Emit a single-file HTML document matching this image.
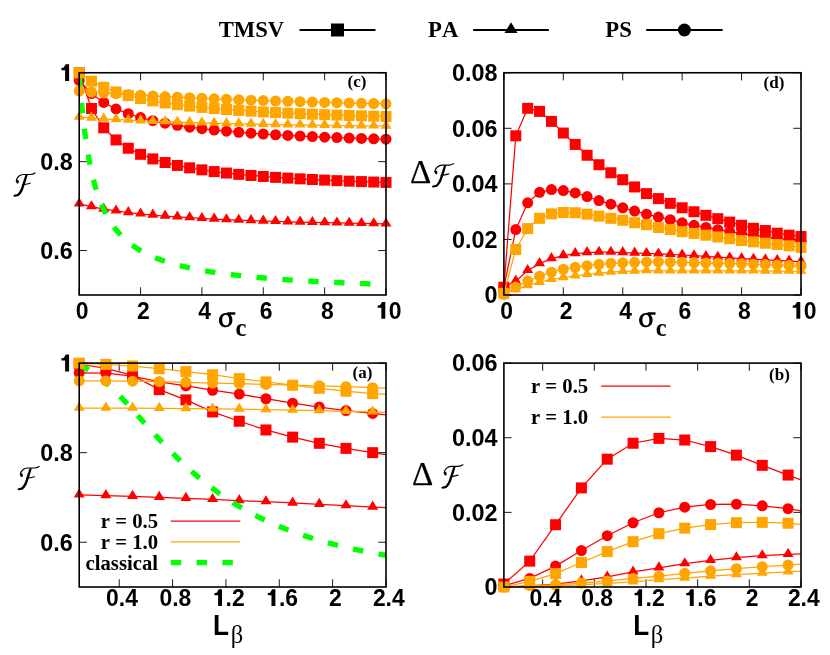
<!DOCTYPE html>
<html lang="en">
<head>
<meta charset="utf-8">
<title>Teleportation fidelity figure</title>
<style>
html,body{margin:0;padding:0;background:#ffffff;}
body{width:830px;height:655px;overflow:hidden;font-family:"Liberation Sans",sans-serif;}
svg{display:block;will-change:transform;}
text{fill:#000;font-kerning:none;}
.tk{font-family:"Liberation Sans",sans-serif;font-weight:bold;font-size:24px;}
.tag{font-family:"Liberation Serif",serif;font-weight:bold;font-size:17px;}
.key{font-family:"Liberation Serif",serif;font-weight:bold;font-size:22.7px;}
.leg{font-family:"Liberation Serif",serif;font-weight:bold;font-size:20.7px;}
.delta{font-family:"Liberation Serif",serif;font-size:33px;stroke:#000;stroke-width:0.25px;}
.sym{font-family:"Liberation Serif",serif;font-size:33px;}
.sub{font-family:"Liberation Serif",serif;font-weight:bold;font-size:24.5px;}
.bigL{font-family:"Liberation Sans",sans-serif;font-weight:bold;font-size:30px;}
.beta{font-family:"Liberation Serif",serif;font-size:24.5px;}
</style>
</head>
<body>
<svg width="830" height="655" viewBox="0 0 830 655">
<rect x="0" y="0" width="830" height="655" fill="#ffffff"/>
<defs>
<clipPath id="clipc"><rect x="79.2" y="72.75" width="306.8" height="222.25"/></clipPath>
<clipPath id="clipd"><rect x="503.9" y="72.75" width="297.1" height="222.25"/></clipPath>
<clipPath id="clipa"><rect x="79.2" y="363.1" width="306.8" height="223.9"/></clipPath>
<clipPath id="clipb"><rect x="503.9" y="363.1" width="297.1" height="223.9"/></clipPath>
</defs>
<path d="M79.2 295v-7.7 M79.2 72.75v7.7 M140.56 295v-7.7 M140.56 72.75v7.7 M201.92 295v-7.7 M201.92 72.75v7.7 M263.28 295v-7.7 M263.28 72.75v7.7 M324.64 295v-7.7 M324.64 72.75v7.7 M386 295v-7.7 M386 72.75v7.7 M79.2 250.55h7.7 M386 250.55h-7.7 M79.2 161.65h7.7 M386 161.65h-7.7 M79.2 72.75h7.7 M386 72.75h-7.7" stroke="#000" stroke-width="0.9" fill="none"/>
<polyline clip-path="url(#clipc)" fill="none" stroke="#ff0000" stroke-width="1.25" points="79.2,72.75 91.47,108.48 103.74,127.82 116.02,139.94 128.29,148.25 140.56,154.3 152.83,158.9 165.1,162.52 177.38,165.44 189.65,167.84 201.92,169.86 214.19,171.58 226.46,173.05 238.74,174.34 251.01,175.46 263.28,176.46 275.55,177.35 287.82,178.14 300.1,178.86 312.37,179.51 324.64,180.11 336.91,180.65 349.18,181.14 361.46,181.6 373.73,182.03 386,182.42"/>
<rect x="73.7" y="67.25" width="11" height="11" fill="#ff0000"/><rect x="85.97" y="102.98" width="11" height="11" fill="#ff0000"/><rect x="98.24" y="122.32" width="11" height="11" fill="#ff0000"/><rect x="110.52" y="134.44" width="11" height="11" fill="#ff0000"/><rect x="122.79" y="142.75" width="11" height="11" fill="#ff0000"/><rect x="135.06" y="148.8" width="11" height="11" fill="#ff0000"/><rect x="147.33" y="153.4" width="11" height="11" fill="#ff0000"/><rect x="159.6" y="157.02" width="11" height="11" fill="#ff0000"/><rect x="171.88" y="159.94" width="11" height="11" fill="#ff0000"/><rect x="184.15" y="162.34" width="11" height="11" fill="#ff0000"/><rect x="196.42" y="164.36" width="11" height="11" fill="#ff0000"/><rect x="208.69" y="166.08" width="11" height="11" fill="#ff0000"/><rect x="220.96" y="167.55" width="11" height="11" fill="#ff0000"/><rect x="233.24" y="168.84" width="11" height="11" fill="#ff0000"/><rect x="245.51" y="169.96" width="11" height="11" fill="#ff0000"/><rect x="257.78" y="170.96" width="11" height="11" fill="#ff0000"/><rect x="270.05" y="171.85" width="11" height="11" fill="#ff0000"/><rect x="282.32" y="172.64" width="11" height="11" fill="#ff0000"/><rect x="294.6" y="173.36" width="11" height="11" fill="#ff0000"/><rect x="306.87" y="174.01" width="11" height="11" fill="#ff0000"/><rect x="319.14" y="174.61" width="11" height="11" fill="#ff0000"/><rect x="331.41" y="175.15" width="11" height="11" fill="#ff0000"/><rect x="343.68" y="175.64" width="11" height="11" fill="#ff0000"/><rect x="355.96" y="176.1" width="11" height="11" fill="#ff0000"/><rect x="368.23" y="176.53" width="11" height="11" fill="#ff0000"/><rect x="380.5" y="176.92" width="11" height="11" fill="#ff0000"/>
<polyline clip-path="url(#clipc)" fill="none" stroke="#ff0000" stroke-width="1.25" points="79.2,203.88 91.47,206.73 103.74,209.04 116.02,210.94 128.29,212.53 140.56,213.88 152.83,215.04 165.1,216.05 177.38,216.94 189.65,217.73 201.92,218.42 214.19,219.05 226.46,219.62 238.74,220.13 251.01,220.6 263.28,221.02 275.55,221.41 287.82,221.77 300.1,222.11 312.37,222.42 324.64,222.7 336.91,222.97 349.18,223.22 361.46,223.45 373.73,223.67 386,223.88"/>
<path d="M79.2 197.39L73.7 206.52L84.7 206.52Z" fill="#ff0000"/><path d="M91.47 200.24L85.97 209.37L96.97 209.37Z" fill="#ff0000"/><path d="M103.74 202.55L98.24 211.68L109.24 211.68Z" fill="#ff0000"/><path d="M116.02 204.45L110.52 213.58L121.52 213.58Z" fill="#ff0000"/><path d="M128.29 206.04L122.79 215.17L133.79 215.17Z" fill="#ff0000"/><path d="M140.56 207.39L135.06 216.52L146.06 216.52Z" fill="#ff0000"/><path d="M152.83 208.55L147.33 217.68L158.33 217.68Z" fill="#ff0000"/><path d="M165.1 209.56L159.6 218.69L170.6 218.69Z" fill="#ff0000"/><path d="M177.38 210.45L171.88 219.58L182.88 219.58Z" fill="#ff0000"/><path d="M189.65 211.24L184.15 220.37L195.15 220.37Z" fill="#ff0000"/><path d="M201.92 211.93L196.42 221.06L207.42 221.06Z" fill="#ff0000"/><path d="M214.19 212.56L208.69 221.69L219.69 221.69Z" fill="#ff0000"/><path d="M226.46 213.13L220.96 222.26L231.96 222.26Z" fill="#ff0000"/><path d="M238.74 213.64L233.24 222.77L244.24 222.77Z" fill="#ff0000"/><path d="M251.01 214.11L245.51 223.24L256.51 223.24Z" fill="#ff0000"/><path d="M263.28 214.53L257.78 223.66L268.78 223.66Z" fill="#ff0000"/><path d="M275.55 214.92L270.05 224.05L281.05 224.05Z" fill="#ff0000"/><path d="M287.82 215.28L282.32 224.41L293.32 224.41Z" fill="#ff0000"/><path d="M300.1 215.62L294.6 224.75L305.6 224.75Z" fill="#ff0000"/><path d="M312.37 215.93L306.87 225.06L317.87 225.06Z" fill="#ff0000"/><path d="M324.64 216.21L319.14 225.34L330.14 225.34Z" fill="#ff0000"/><path d="M336.91 216.48L331.41 225.61L342.41 225.61Z" fill="#ff0000"/><path d="M349.18 216.73L343.68 225.86L354.68 225.86Z" fill="#ff0000"/><path d="M361.46 216.96L355.96 226.09L366.96 226.09Z" fill="#ff0000"/><path d="M373.73 217.18L368.23 226.31L379.23 226.31Z" fill="#ff0000"/><path d="M386 217.39L380.5 226.52L391.5 226.52Z" fill="#ff0000"/>
<polyline clip-path="url(#clipc)" fill="none" stroke="#ff0000" stroke-width="1.25" points="79.2,80.44 91.47,93.53 103.74,102.43 116.02,108.88 128.29,113.76 140.56,117.59 152.83,120.67 165.1,123.21 177.38,125.33 189.65,127.13 201.92,128.68 214.19,130.03 226.46,131.21 238.74,132.25 251.01,133.18 263.28,134.01 275.55,134.76 287.82,135.44 300.1,136.06 312.37,136.62 324.64,137.14 336.91,137.62 349.18,138.06 361.46,138.47 373.73,138.85 386,139.2"/>
<circle cx="79.2" cy="80.44" r="5.5" fill="#ff0000"/><circle cx="91.47" cy="93.53" r="5.5" fill="#ff0000"/><circle cx="103.74" cy="102.43" r="5.5" fill="#ff0000"/><circle cx="116.02" cy="108.88" r="5.5" fill="#ff0000"/><circle cx="128.29" cy="113.76" r="5.5" fill="#ff0000"/><circle cx="140.56" cy="117.59" r="5.5" fill="#ff0000"/><circle cx="152.83" cy="120.67" r="5.5" fill="#ff0000"/><circle cx="165.1" cy="123.21" r="5.5" fill="#ff0000"/><circle cx="177.38" cy="125.33" r="5.5" fill="#ff0000"/><circle cx="189.65" cy="127.13" r="5.5" fill="#ff0000"/><circle cx="201.92" cy="128.68" r="5.5" fill="#ff0000"/><circle cx="214.19" cy="130.03" r="5.5" fill="#ff0000"/><circle cx="226.46" cy="131.21" r="5.5" fill="#ff0000"/><circle cx="238.74" cy="132.25" r="5.5" fill="#ff0000"/><circle cx="251.01" cy="133.18" r="5.5" fill="#ff0000"/><circle cx="263.28" cy="134.01" r="5.5" fill="#ff0000"/><circle cx="275.55" cy="134.76" r="5.5" fill="#ff0000"/><circle cx="287.82" cy="135.44" r="5.5" fill="#ff0000"/><circle cx="300.1" cy="136.06" r="5.5" fill="#ff0000"/><circle cx="312.37" cy="136.62" r="5.5" fill="#ff0000"/><circle cx="324.64" cy="137.14" r="5.5" fill="#ff0000"/><circle cx="336.91" cy="137.62" r="5.5" fill="#ff0000"/><circle cx="349.18" cy="138.06" r="5.5" fill="#ff0000"/><circle cx="361.46" cy="138.47" r="5.5" fill="#ff0000"/><circle cx="373.73" cy="138.85" r="5.5" fill="#ff0000"/><circle cx="386" cy="139.2" r="5.5" fill="#ff0000"/>
<polyline clip-path="url(#clipc)" fill="none" stroke="#00ff00" stroke-width="5.3" stroke-dasharray="10.4 15.53" stroke-dashoffset="-4.4" points="79.2,72.75 79.69,79.61 80.18,86.07 80.67,92.14 81.16,97.88 81.64,103.29 82.13,108.42 82.62,113.28 83.11,117.9 83.6,122.28 84.09,126.46 84.58,130.44 85.07,134.23 85.55,137.85 86.04,141.31 86.53,144.63 87.02,147.8 87.51,150.84 88,153.76 88.49,156.57 88.98,159.26 89.47,161.85 89.95,164.35 90.44,166.75 90.93,169.07 91.42,171.3 91.91,173.45 92.4,175.54 92.89,177.55 93.38,179.49 93.87,181.38 94.35,183.2 94.84,184.96 95.33,186.67 95.82,188.33 96.31,189.93 96.8,191.49 97.29,193.01 97.78,194.48 98.26,195.91 98.75,197.29 99.24,198.64 99.73,199.96 100.22,201.23 100.71,202.48 101.2,203.69 101.69,204.87 102.18,206.02 102.66,207.14 103.15,208.23 103.64,209.3 104.13,210.34 104.62,211.36 105.11,212.35 105.6,213.31 106.09,214.26 106.57,215.18 107.06,216.09 107.55,216.97 108.04,217.83 108.53,218.68 109.02,219.5 109.51,220.31 110,221.1 110.49,221.88 110.97,222.64 111.46,223.38 111.95,224.11 112.44,224.82 112.93,225.52 113.42,226.21 113.91,226.88 114.4,227.54 114.88,228.18 115.37,228.82 115.86,229.44 116.35,230.05 116.84,230.65 117.33,231.24 117.82,231.82 118.31,232.38 118.8,232.94 119.28,233.49 119.77,234.02 120.26,234.55 120.75,235.07 121.24,235.58 121.73,236.09 122.22,236.58 122.71,237.06 123.2,237.54 123.68,238.01 124.17,238.47 124.66,238.93 125.15,239.37 125.64,239.81 126.13,240.25 126.62,240.67 127.11,241.09 127.59,241.51 128.08,241.91 128.57,242.32 129.06,242.71 129.55,243.1 130.04,243.48 130.53,243.86 131.02,244.23 131.51,244.6 131.99,244.96 132.48,245.32 132.97,245.67 133.46,246.02 133.95,246.36 134.44,246.69 134.93,247.03 135.42,247.35 135.9,247.68 136.39,248 136.88,248.31 137.37,248.62 137.86,248.93 138.35,249.23 138.84,249.53 139.33,249.82 139.82,250.11 140.3,250.4 140.79,250.68 141.28,250.96 141.77,251.24 142.26,251.51 142.75,251.78 143.24,252.05 143.73,252.31 144.22,252.57 144.7,252.83 145.19,253.08 145.68,253.33 146.17,253.58 146.66,253.82 147.15,254.07 147.64,254.3 148.13,254.54 148.61,254.77 149.1,255 149.59,255.23 150.08,255.46 150.57,255.68 151.06,255.9 151.55,256.12 152.04,256.34 152.53,256.55 153.01,256.76 153.5,256.97 153.99,257.17 154.48,257.38 154.97,257.58 155.46,257.78 155.95,257.98 156.44,258.17 156.92,258.37 157.41,258.56 157.9,258.75 158.39,258.93 158.88,259.12 159.37,259.3 159.86,259.49 160.35,259.67 160.84,259.84 161.32,260.02 161.81,260.19 162.3,260.37 162.79,260.54 163.28,260.71 163.77,260.88 164.26,261.04 164.75,261.21 165.23,261.37 165.72,261.53 166.21,261.69 166.7,261.85 167.19,262.01 167.68,262.16 168.17,262.31 168.66,262.47 169.15,262.62 169.63,262.77 170.12,262.92 170.61,263.06 171.1,263.21 171.59,263.35 172.08,263.5 172.57,263.64 173.06,263.78 173.55,263.92 174.03,264.06 174.52,264.19 175.01,264.33 175.5,264.46 175.99,264.59 176.48,264.73 176.97,264.86 177.46,264.99 177.94,265.12 178.43,265.24 178.92,265.37 179.41,265.5 179.9,265.62 180.39,265.74 180.88,265.86 181.37,265.99 181.86,266.11 182.34,266.23 182.83,266.34 183.32,266.46 183.81,266.58 184.3,266.69 184.79,266.81 185.28,266.92 185.77,267.03 186.25,267.14 186.74,267.26 187.23,267.37 187.72,267.47 188.21,267.58 188.7,267.69 189.19,267.8 189.68,267.9 190.17,268.01 190.65,268.11 191.14,268.21 191.63,268.32 192.12,268.42 192.61,268.52 193.1,268.62 193.59,268.72 194.08,268.82 194.56,268.92 195.05,269.01 195.54,269.11 196.03,269.21 196.52,269.3 197.01,269.39 197.5,269.49 197.99,269.58 198.48,269.67 198.96,269.77 199.45,269.86 199.94,269.95 200.43,270.04 200.92,270.13 201.41,270.21 201.9,270.3 202.39,270.39 202.88,270.48 203.36,270.56 203.85,270.65 204.34,270.73 204.83,270.82 205.32,270.9 205.81,270.98 206.3,271.06 206.79,271.15 207.27,271.23 207.76,271.31 208.25,271.39 208.74,271.47 209.23,271.55 209.72,271.63 210.21,271.7 210.7,271.78 211.19,271.86 211.67,271.94 212.16,272.01 212.65,272.09 213.14,272.16 213.63,272.24 214.12,272.31 214.61,272.38 215.1,272.46 215.58,272.53 216.07,272.6 216.56,272.67 217.05,272.74 217.54,272.82 218.03,272.89 218.52,272.96 219.01,273.03 219.5,273.09 219.98,273.16 220.47,273.23 220.96,273.3 221.45,273.37 221.94,273.43 222.43,273.5 222.92,273.57 223.41,273.63 223.9,273.7 224.38,273.76 224.87,273.83 225.36,273.89 225.85,273.95 226.34,274.02 226.83,274.08 227.32,274.14 227.81,274.2 228.29,274.27 228.78,274.33 229.27,274.39 229.76,274.45 230.25,274.51 230.74,274.57 231.23,274.63 231.72,274.69 232.21,274.75 232.69,274.81 233.18,274.87 233.67,274.92 234.16,274.98 234.65,275.04 235.14,275.09 235.63,275.15 236.12,275.21 236.6,275.26 237.09,275.32 237.58,275.37 238.07,275.43 238.56,275.48 239.05,275.54 239.54,275.59 240.03,275.65 240.52,275.7 241,275.75 241.49,275.81 241.98,275.86 242.47,275.91 242.96,275.96 243.45,276.02 243.94,276.07 244.43,276.12 244.91,276.17 245.4,276.22 245.89,276.27 246.38,276.32 246.87,276.37 247.36,276.42 247.85,276.47 248.34,276.52 248.83,276.57 249.31,276.62 249.8,276.66 250.29,276.71 250.78,276.76 251.27,276.81 251.76,276.86 252.25,276.9 252.74,276.95 253.23,277 253.71,277.04 254.2,277.09 254.69,277.13 255.18,277.18 255.67,277.23 256.16,277.27 256.65,277.32 257.14,277.36 257.62,277.4 258.11,277.45 258.6,277.49 259.09,277.54 259.58,277.58 260.07,277.62 260.56,277.67 261.05,277.71 261.54,277.75 262.02,277.8 262.51,277.84 263,277.88 263.49,277.92 263.98,277.96 264.47,278.01 264.96,278.05 265.45,278.09 265.93,278.13 266.42,278.17 266.91,278.21 267.4,278.25 267.89,278.29 268.38,278.33 268.87,278.37 269.36,278.41 269.85,278.45 270.33,278.49 270.82,278.53 271.31,278.57 271.8,278.6 272.29,278.64 272.78,278.68 273.27,278.72 273.76,278.76 274.25,278.79 274.73,278.83 275.22,278.87 275.71,278.91 276.2,278.94 276.69,278.98 277.18,279.02 277.67,279.05 278.16,279.09 278.64,279.13 279.13,279.16 279.62,279.2 280.11,279.23 280.6,279.27 281.09,279.31 281.58,279.34 282.07,279.38 282.56,279.41 283.04,279.45 283.53,279.48 284.02,279.51 284.51,279.55 285,279.58 285.49,279.62 285.98,279.65 286.47,279.68 286.95,279.72 287.44,279.75 287.93,279.78 288.42,279.82 288.91,279.85 289.4,279.88 289.89,279.92 290.38,279.95 290.87,279.98 291.35,280.01 291.84,280.05 292.33,280.08 292.82,280.11 293.31,280.14 293.8,280.17 294.29,280.2 294.78,280.24 295.26,280.27 295.75,280.3 296.24,280.33 296.73,280.36 297.22,280.39 297.71,280.42 298.2,280.45 298.69,280.48 299.18,280.51 299.66,280.54 300.15,280.57 300.64,280.6 301.13,280.63 301.62,280.66 302.11,280.69 302.6,280.72 303.09,280.75 303.58,280.78 304.06,280.81 304.55,280.84 305.04,280.86 305.53,280.89 306.02,280.92 306.51,280.95 307,280.98 307.49,281.01 307.97,281.03 308.46,281.06 308.95,281.09 309.44,281.12 309.93,281.14 310.42,281.17 310.91,281.2 311.4,281.23 311.89,281.25 312.37,281.28 312.86,281.31 313.35,281.33 313.84,281.36 314.33,281.39 314.82,281.41 315.31,281.44 315.8,281.47 316.28,281.49 316.77,281.52 317.26,281.55 317.75,281.57 318.24,281.6 318.73,281.62 319.22,281.65 319.71,281.67 320.2,281.7 320.68,281.73 321.17,281.75 321.66,281.78 322.15,281.8 322.64,281.83 323.13,281.85 323.62,281.88 324.11,281.9 324.6,281.92 325.08,281.95 325.57,281.97 326.06,282 326.55,282.02 327.04,282.05 327.53,282.07 328.02,282.09 328.51,282.12 328.99,282.14 329.48,282.16 329.97,282.19 330.46,282.21 330.95,282.24 331.44,282.26 331.93,282.28 332.42,282.31 332.91,282.33 333.39,282.35 333.88,282.37 334.37,282.4 334.86,282.42 335.35,282.44 335.84,282.46 336.33,282.49 336.82,282.51 337.3,282.53 337.79,282.55 338.28,282.58 338.77,282.6 339.26,282.62 339.75,282.64 340.24,282.66 340.73,282.69 341.22,282.71 341.7,282.73 342.19,282.75 342.68,282.77 343.17,282.79 343.66,282.82 344.15,282.84 344.64,282.86 345.13,282.88 345.61,282.9 346.1,282.92 346.59,282.94 347.08,282.96 347.57,282.98 348.06,283 348.55,283.02 349.04,283.04 349.53,283.07 350.01,283.09 350.5,283.11 350.99,283.13 351.48,283.15 351.97,283.17 352.46,283.19 352.95,283.21 353.44,283.23 353.93,283.25 354.41,283.27 354.9,283.29 355.39,283.31 355.88,283.33 356.37,283.34 356.86,283.36 357.35,283.38 357.84,283.4 358.32,283.42 358.81,283.44 359.3,283.46 359.79,283.48 360.28,283.5 360.77,283.52 361.26,283.54 361.75,283.55 362.24,283.57 362.72,283.59 363.21,283.61 363.7,283.63 364.19,283.65 364.68,283.67 365.17,283.68 365.66,283.7 366.15,283.72 366.63,283.74 367.12,283.76 367.61,283.78 368.1,283.79 368.59,283.81 369.08,283.83 369.57,283.85 370.06,283.87 370.55,283.88 371.03,283.9 371.52,283.92 372.01,283.94 372.5,283.95"/>
<polyline clip-path="url(#clipc)" fill="none" stroke="#ffa500" stroke-width="1.25" points="79.2,72.75 91.47,81.18 103.74,87.3 116.02,91.93 128.29,95.57 140.56,98.51 152.83,100.92 165.1,102.94 177.38,104.66 189.65,106.13 201.92,107.41 214.19,108.54 226.46,109.53 238.74,110.42 251.01,111.21 263.28,111.93 275.55,112.58 287.82,113.17 300.1,113.71 312.37,114.2 324.64,114.66 336.91,115.08 349.18,115.47 361.46,115.83 373.73,116.17 386,116.49"/>
<rect x="73.7" y="67.25" width="11" height="11" fill="#ffa500"/><rect x="85.97" y="75.68" width="11" height="11" fill="#ffa500"/><rect x="98.24" y="81.8" width="11" height="11" fill="#ffa500"/><rect x="110.52" y="86.43" width="11" height="11" fill="#ffa500"/><rect x="122.79" y="90.07" width="11" height="11" fill="#ffa500"/><rect x="135.06" y="93.01" width="11" height="11" fill="#ffa500"/><rect x="147.33" y="95.42" width="11" height="11" fill="#ffa500"/><rect x="159.6" y="97.44" width="11" height="11" fill="#ffa500"/><rect x="171.88" y="99.16" width="11" height="11" fill="#ffa500"/><rect x="184.15" y="100.63" width="11" height="11" fill="#ffa500"/><rect x="196.42" y="101.91" width="11" height="11" fill="#ffa500"/><rect x="208.69" y="103.04" width="11" height="11" fill="#ffa500"/><rect x="220.96" y="104.03" width="11" height="11" fill="#ffa500"/><rect x="233.24" y="104.92" width="11" height="11" fill="#ffa500"/><rect x="245.51" y="105.71" width="11" height="11" fill="#ffa500"/><rect x="257.78" y="106.43" width="11" height="11" fill="#ffa500"/><rect x="270.05" y="107.08" width="11" height="11" fill="#ffa500"/><rect x="282.32" y="107.67" width="11" height="11" fill="#ffa500"/><rect x="294.6" y="108.21" width="11" height="11" fill="#ffa500"/><rect x="306.87" y="108.7" width="11" height="11" fill="#ffa500"/><rect x="319.14" y="109.16" width="11" height="11" fill="#ffa500"/><rect x="331.41" y="109.58" width="11" height="11" fill="#ffa500"/><rect x="343.68" y="109.97" width="11" height="11" fill="#ffa500"/><rect x="355.96" y="110.33" width="11" height="11" fill="#ffa500"/><rect x="368.23" y="110.67" width="11" height="11" fill="#ffa500"/><rect x="380.5" y="110.99" width="11" height="11" fill="#ffa500"/>
<polyline clip-path="url(#clipc)" fill="none" stroke="#ffa500" stroke-width="1.25" points="79.2,117.2 91.47,118.09 103.74,118.87 116.02,119.57 128.29,120.19 140.56,120.76 152.83,121.26 165.1,121.73 177.38,122.15 189.65,122.53 201.92,122.89 214.19,123.22 226.46,123.52 238.74,123.8 251.01,124.07 263.28,124.31 275.55,124.54 287.82,124.76 300.1,124.96 312.37,125.15 324.64,125.33 336.91,125.5 349.18,125.66 361.46,125.81 373.73,125.95 386,126.09"/>
<path d="M79.2 110.71L73.7 119.84L84.7 119.84Z" fill="#ffa500"/><path d="M91.47 111.6L85.97 120.73L96.97 120.73Z" fill="#ffa500"/><path d="M103.74 112.38L98.24 121.51L109.24 121.51Z" fill="#ffa500"/><path d="M116.02 113.08L110.52 122.21L121.52 122.21Z" fill="#ffa500"/><path d="M128.29 113.7L122.79 122.83L133.79 122.83Z" fill="#ffa500"/><path d="M140.56 114.27L135.06 123.4L146.06 123.4Z" fill="#ffa500"/><path d="M152.83 114.77L147.33 123.9L158.33 123.9Z" fill="#ffa500"/><path d="M165.1 115.24L159.6 124.37L170.6 124.37Z" fill="#ffa500"/><path d="M177.38 115.66L171.88 124.79L182.88 124.79Z" fill="#ffa500"/><path d="M189.65 116.04L184.15 125.17L195.15 125.17Z" fill="#ffa500"/><path d="M201.92 116.4L196.42 125.53L207.42 125.53Z" fill="#ffa500"/><path d="M214.19 116.73L208.69 125.86L219.69 125.86Z" fill="#ffa500"/><path d="M226.46 117.03L220.96 126.16L231.96 126.16Z" fill="#ffa500"/><path d="M238.74 117.31L233.24 126.44L244.24 126.44Z" fill="#ffa500"/><path d="M251.01 117.58L245.51 126.71L256.51 126.71Z" fill="#ffa500"/><path d="M263.28 117.82L257.78 126.95L268.78 126.95Z" fill="#ffa500"/><path d="M275.55 118.05L270.05 127.18L281.05 127.18Z" fill="#ffa500"/><path d="M287.82 118.27L282.32 127.4L293.32 127.4Z" fill="#ffa500"/><path d="M300.1 118.47L294.6 127.6L305.6 127.6Z" fill="#ffa500"/><path d="M312.37 118.66L306.87 127.79L317.87 127.79Z" fill="#ffa500"/><path d="M324.64 118.84L319.14 127.97L330.14 127.97Z" fill="#ffa500"/><path d="M336.91 119.01L331.41 128.14L342.41 128.14Z" fill="#ffa500"/><path d="M349.18 119.17L343.68 128.3L354.68 128.3Z" fill="#ffa500"/><path d="M361.46 119.32L355.96 128.45L366.96 128.45Z" fill="#ffa500"/><path d="M373.73 119.46L368.23 128.59L379.23 128.59Z" fill="#ffa500"/><path d="M386 119.6L380.5 128.73L391.5 128.73Z" fill="#ffa500"/>
<polyline clip-path="url(#clipc)" fill="none" stroke="#ffa500" stroke-width="1.25" points="79.2,91.02 91.47,91.99 103.74,92.89 116.02,93.73 128.29,94.51 140.56,95.24 152.83,95.93 165.1,96.57 177.38,97.18 189.65,97.75 201.92,98.29 214.19,98.81 226.46,99.29 238.74,99.75 251.01,100.19 263.28,100.6 275.55,101 287.82,101.37 300.1,101.73 312.37,102.08 324.64,102.41 336.91,102.72 349.18,103.02 361.46,103.31 373.73,103.59 386,103.86"/>
<circle cx="79.2" cy="91.02" r="5.5" fill="#ffa500"/><circle cx="91.47" cy="91.99" r="5.5" fill="#ffa500"/><circle cx="103.74" cy="92.89" r="5.5" fill="#ffa500"/><circle cx="116.02" cy="93.73" r="5.5" fill="#ffa500"/><circle cx="128.29" cy="94.51" r="5.5" fill="#ffa500"/><circle cx="140.56" cy="95.24" r="5.5" fill="#ffa500"/><circle cx="152.83" cy="95.93" r="5.5" fill="#ffa500"/><circle cx="165.1" cy="96.57" r="5.5" fill="#ffa500"/><circle cx="177.38" cy="97.18" r="5.5" fill="#ffa500"/><circle cx="189.65" cy="97.75" r="5.5" fill="#ffa500"/><circle cx="201.92" cy="98.29" r="5.5" fill="#ffa500"/><circle cx="214.19" cy="98.81" r="5.5" fill="#ffa500"/><circle cx="226.46" cy="99.29" r="5.5" fill="#ffa500"/><circle cx="238.74" cy="99.75" r="5.5" fill="#ffa500"/><circle cx="251.01" cy="100.19" r="5.5" fill="#ffa500"/><circle cx="263.28" cy="100.6" r="5.5" fill="#ffa500"/><circle cx="275.55" cy="101" r="5.5" fill="#ffa500"/><circle cx="287.82" cy="101.37" r="5.5" fill="#ffa500"/><circle cx="300.1" cy="101.73" r="5.5" fill="#ffa500"/><circle cx="312.37" cy="102.08" r="5.5" fill="#ffa500"/><circle cx="324.64" cy="102.41" r="5.5" fill="#ffa500"/><circle cx="336.91" cy="102.72" r="5.5" fill="#ffa500"/><circle cx="349.18" cy="103.02" r="5.5" fill="#ffa500"/><circle cx="361.46" cy="103.31" r="5.5" fill="#ffa500"/><circle cx="373.73" cy="103.59" r="5.5" fill="#ffa500"/><circle cx="386" cy="103.86" r="5.5" fill="#ffa500"/>
<rect x="79.2" y="72.75" width="306.8" height="222.25" fill="none" stroke="#000" stroke-width="1.6"/>
<g transform="translate(82 318.7) scale(0.955 1)"><text class="tk" x="-6.67" y="0">0</text></g><g transform="translate(143.36 318.7) scale(0.955 1)"><text class="tk" x="-6.67" y="0">2</text></g><g transform="translate(204.72 318.7) scale(0.955 1)"><text class="tk" x="-6.67" y="0">4</text></g><g transform="translate(266.08 318.7) scale(0.955 1)"><text class="tk" x="-6.67" y="0">6</text></g><g transform="translate(327.44 318.7) scale(0.955 1)"><text class="tk" x="-6.67" y="0">8</text></g><g transform="translate(388.8 318.7) scale(0.955 1)"><text class="tk" x="0" y="0">0</text><path d="M-7.78 0L-7.78 -10.85L-11.57 -10.85L-11.57 -13.15L-9.26 -13.44L-7.06 -16.8L-3.7 -16.8L-3.7 0Z"/></g><g transform="translate(72.7 258.85) scale(0.975 1)"><text class="tk" x="-33.36 -20.02 -13.34" y="0">0.6</text></g><g transform="translate(72.7 169.95) scale(0.975 1)"><text class="tk" x="-33.36 -20.02 -13.34" y="0">0.8</text></g><g transform="translate(72.7 81.05) scale(0.975 1)"><path d="M-7.78 0L-7.78 -10.85L-11.57 -10.85L-11.57 -13.15L-9.26 -13.44L-7.06 -16.8L-3.7 -16.8L-3.7 0Z"/></g>
<path d="M503.9 295v-7.7 M503.9 72.75v7.7 M563.32 295v-7.7 M563.32 72.75v7.7 M622.74 295v-7.7 M622.74 72.75v7.7 M682.16 295v-7.7 M682.16 72.75v7.7 M741.58 295v-7.7 M741.58 72.75v7.7 M801 295v-7.7 M801 72.75v7.7 M503.9 295h7.7 M801 295h-7.7 M503.9 239.44h7.7 M801 239.44h-7.7 M503.9 183.88h7.7 M801 183.88h-7.7 M503.9 128.31h7.7 M801 128.31h-7.7 M503.9 72.75h7.7 M801 72.75h-7.7" stroke="#000" stroke-width="0.9" fill="none"/>
<polyline clip-path="url(#clipd)" fill="none" stroke="#ff0000" stroke-width="1.25" points="503.9,287.22 515.78,135.81 527.67,108.31 539.55,111.37 551.44,121.37 563.32,133.04 575.2,144.43 587.09,155.26 598.97,164.71 610.86,172.76 622.74,179.71 634.62,186.93 646.51,193.6 658.39,198.6 670.28,203.32 682.16,207.77 694.04,211.77 705.93,215.32 717.81,218.68 729.7,222.07 741.58,225.27 753.46,228.32 765.35,230.55 777.23,233.19 789.12,235.16 801,236.55"/>
<rect x="498.4" y="281.72" width="11" height="11" fill="#ff0000"/><rect x="510.28" y="130.31" width="11" height="11" fill="#ff0000"/><rect x="522.17" y="102.81" width="11" height="11" fill="#ff0000"/><rect x="534.05" y="105.87" width="11" height="11" fill="#ff0000"/><rect x="545.94" y="115.87" width="11" height="11" fill="#ff0000"/><rect x="557.82" y="127.54" width="11" height="11" fill="#ff0000"/><rect x="569.7" y="138.93" width="11" height="11" fill="#ff0000"/><rect x="581.59" y="149.76" width="11" height="11" fill="#ff0000"/><rect x="593.47" y="159.21" width="11" height="11" fill="#ff0000"/><rect x="605.36" y="167.26" width="11" height="11" fill="#ff0000"/><rect x="617.24" y="174.21" width="11" height="11" fill="#ff0000"/><rect x="629.12" y="181.43" width="11" height="11" fill="#ff0000"/><rect x="641.01" y="188.1" width="11" height="11" fill="#ff0000"/><rect x="652.89" y="193.1" width="11" height="11" fill="#ff0000"/><rect x="664.78" y="197.82" width="11" height="11" fill="#ff0000"/><rect x="676.66" y="202.27" width="11" height="11" fill="#ff0000"/><rect x="688.54" y="206.27" width="11" height="11" fill="#ff0000"/><rect x="700.43" y="209.82" width="11" height="11" fill="#ff0000"/><rect x="712.31" y="213.18" width="11" height="11" fill="#ff0000"/><rect x="724.2" y="216.57" width="11" height="11" fill="#ff0000"/><rect x="736.08" y="219.77" width="11" height="11" fill="#ff0000"/><rect x="747.96" y="222.82" width="11" height="11" fill="#ff0000"/><rect x="759.85" y="225.05" width="11" height="11" fill="#ff0000"/><rect x="771.73" y="227.69" width="11" height="11" fill="#ff0000"/><rect x="783.62" y="229.66" width="11" height="11" fill="#ff0000"/><rect x="795.5" y="231.05" width="11" height="11" fill="#ff0000"/>
<polyline clip-path="url(#clipd)" fill="none" stroke="#ff0000" stroke-width="1.25" points="503.9,287.22 515.78,281.11 527.67,270.44 539.55,263.61 551.44,258.61 563.32,255.55 575.2,253.61 587.09,252.61 598.97,252.22 610.86,252.22 622.74,252.61 634.62,253.05 646.51,253.41 658.39,253.88 670.28,254.44 682.16,255 694.04,255.72 705.93,256.44 717.81,257.16 729.7,257.88 741.58,258.61 753.46,259.22 765.35,259.83 777.23,260.44 789.12,261.05 801,261.66"/>
<path d="M503.9 280.73L498.4 289.86L509.4 289.86Z" fill="#ff0000"/><path d="M515.78 274.62L510.28 283.75L521.28 283.75Z" fill="#ff0000"/><path d="M527.67 263.95L522.17 273.08L533.17 273.08Z" fill="#ff0000"/><path d="M539.55 257.12L534.05 266.25L545.05 266.25Z" fill="#ff0000"/><path d="M551.44 252.12L545.94 261.25L556.94 261.25Z" fill="#ff0000"/><path d="M563.32 249.06L557.82 258.19L568.82 258.19Z" fill="#ff0000"/><path d="M575.2 247.12L569.7 256.25L580.7 256.25Z" fill="#ff0000"/><path d="M587.09 246.12L581.59 255.25L592.59 255.25Z" fill="#ff0000"/><path d="M598.97 245.73L593.47 254.86L604.47 254.86Z" fill="#ff0000"/><path d="M610.86 245.73L605.36 254.86L616.36 254.86Z" fill="#ff0000"/><path d="M622.74 246.12L617.24 255.25L628.24 255.25Z" fill="#ff0000"/><path d="M634.62 246.56L629.12 255.69L640.12 255.69Z" fill="#ff0000"/><path d="M646.51 246.92L641.01 256.05L652.01 256.05Z" fill="#ff0000"/><path d="M658.39 247.39L652.89 256.52L663.89 256.52Z" fill="#ff0000"/><path d="M670.28 247.95L664.78 257.08L675.78 257.08Z" fill="#ff0000"/><path d="M682.16 248.5L676.66 257.63L687.66 257.63Z" fill="#ff0000"/><path d="M694.04 249.23L688.54 258.36L699.54 258.36Z" fill="#ff0000"/><path d="M705.93 249.95L700.43 259.08L711.43 259.08Z" fill="#ff0000"/><path d="M717.81 250.67L712.31 259.8L723.31 259.8Z" fill="#ff0000"/><path d="M729.7 251.39L724.2 260.52L735.2 260.52Z" fill="#ff0000"/><path d="M741.58 252.12L736.08 261.25L747.08 261.25Z" fill="#ff0000"/><path d="M753.46 252.73L747.96 261.86L758.96 261.86Z" fill="#ff0000"/><path d="M765.35 253.34L759.85 262.47L770.85 262.47Z" fill="#ff0000"/><path d="M777.23 253.95L771.73 263.08L782.73 263.08Z" fill="#ff0000"/><path d="M789.12 254.56L783.62 263.69L794.62 263.69Z" fill="#ff0000"/><path d="M801 255.17L795.5 264.3L806.5 264.3Z" fill="#ff0000"/>
<polyline clip-path="url(#clipd)" fill="none" stroke="#ff0000" stroke-width="1.25" points="503.9,287.22 515.78,229.58 527.67,202.77 539.55,192.32 551.44,189.57 563.32,190.54 575.2,192.9 587.09,196.52 598.97,200.54 610.86,204.16 622.74,207.77 634.62,211.1 646.51,214.16 658.39,217.1 670.28,219.71 682.16,222.77 694.04,225.27 705.93,227.49 717.81,229.71 729.7,231.66 741.58,233.6 753.46,235.27 765.35,236.94 777.23,238.6 789.12,239.99 801,241.38"/>
<circle cx="503.9" cy="287.22" r="5.5" fill="#ff0000"/><circle cx="515.78" cy="229.58" r="5.5" fill="#ff0000"/><circle cx="527.67" cy="202.77" r="5.5" fill="#ff0000"/><circle cx="539.55" cy="192.32" r="5.5" fill="#ff0000"/><circle cx="551.44" cy="189.57" r="5.5" fill="#ff0000"/><circle cx="563.32" cy="190.54" r="5.5" fill="#ff0000"/><circle cx="575.2" cy="192.9" r="5.5" fill="#ff0000"/><circle cx="587.09" cy="196.52" r="5.5" fill="#ff0000"/><circle cx="598.97" cy="200.54" r="5.5" fill="#ff0000"/><circle cx="610.86" cy="204.16" r="5.5" fill="#ff0000"/><circle cx="622.74" cy="207.77" r="5.5" fill="#ff0000"/><circle cx="634.62" cy="211.1" r="5.5" fill="#ff0000"/><circle cx="646.51" cy="214.16" r="5.5" fill="#ff0000"/><circle cx="658.39" cy="217.1" r="5.5" fill="#ff0000"/><circle cx="670.28" cy="219.71" r="5.5" fill="#ff0000"/><circle cx="682.16" cy="222.77" r="5.5" fill="#ff0000"/><circle cx="694.04" cy="225.27" r="5.5" fill="#ff0000"/><circle cx="705.93" cy="227.49" r="5.5" fill="#ff0000"/><circle cx="717.81" cy="229.71" r="5.5" fill="#ff0000"/><circle cx="729.7" cy="231.66" r="5.5" fill="#ff0000"/><circle cx="741.58" cy="233.6" r="5.5" fill="#ff0000"/><circle cx="753.46" cy="235.27" r="5.5" fill="#ff0000"/><circle cx="765.35" cy="236.94" r="5.5" fill="#ff0000"/><circle cx="777.23" cy="238.6" r="5.5" fill="#ff0000"/><circle cx="789.12" cy="239.99" r="5.5" fill="#ff0000"/><circle cx="801" cy="241.38" r="5.5" fill="#ff0000"/>
<polyline clip-path="url(#clipd)" fill="none" stroke="#ffa500" stroke-width="1.25" points="503.9,293.33 515.78,249.44 527.67,228.6 539.55,218.32 551.44,213.88 563.32,212.49 575.2,212.77 587.09,214.16 598.97,216.1 610.86,218.32 622.74,220.27 634.62,222.77 646.51,224.71 658.39,227.49 670.28,229.58 682.16,231.66 694.04,233.44 705.93,235.21 717.81,236.99 729.7,238.77 741.58,240.55 753.46,241.87 765.35,243.19 777.23,244.51 789.12,245.83 801,247.49"/>
<rect x="498.4" y="287.83" width="11" height="11" fill="#ffa500"/><rect x="510.28" y="243.94" width="11" height="11" fill="#ffa500"/><rect x="522.17" y="223.1" width="11" height="11" fill="#ffa500"/><rect x="534.05" y="212.82" width="11" height="11" fill="#ffa500"/><rect x="545.94" y="208.38" width="11" height="11" fill="#ffa500"/><rect x="557.82" y="206.99" width="11" height="11" fill="#ffa500"/><rect x="569.7" y="207.27" width="11" height="11" fill="#ffa500"/><rect x="581.59" y="208.66" width="11" height="11" fill="#ffa500"/><rect x="593.47" y="210.6" width="11" height="11" fill="#ffa500"/><rect x="605.36" y="212.82" width="11" height="11" fill="#ffa500"/><rect x="617.24" y="214.77" width="11" height="11" fill="#ffa500"/><rect x="629.12" y="217.27" width="11" height="11" fill="#ffa500"/><rect x="641.01" y="219.21" width="11" height="11" fill="#ffa500"/><rect x="652.89" y="221.99" width="11" height="11" fill="#ffa500"/><rect x="664.78" y="224.08" width="11" height="11" fill="#ffa500"/><rect x="676.66" y="226.16" width="11" height="11" fill="#ffa500"/><rect x="688.54" y="227.94" width="11" height="11" fill="#ffa500"/><rect x="700.43" y="229.71" width="11" height="11" fill="#ffa500"/><rect x="712.31" y="231.49" width="11" height="11" fill="#ffa500"/><rect x="724.2" y="233.27" width="11" height="11" fill="#ffa500"/><rect x="736.08" y="235.05" width="11" height="11" fill="#ffa500"/><rect x="747.96" y="236.37" width="11" height="11" fill="#ffa500"/><rect x="759.85" y="237.69" width="11" height="11" fill="#ffa500"/><rect x="771.73" y="239.01" width="11" height="11" fill="#ffa500"/><rect x="783.62" y="240.33" width="11" height="11" fill="#ffa500"/><rect x="795.5" y="241.99" width="11" height="11" fill="#ffa500"/>
<polyline clip-path="url(#clipd)" fill="none" stroke="#ffa500" stroke-width="1.25" points="503.9,293.61 515.78,289.72 527.67,285.72 539.55,282.33 551.44,279.44 563.32,277.5 575.2,275.83 587.09,274.44 598.97,273.22 610.86,272.22 622.74,271.44 634.62,271.11 646.51,270.64 658.39,270.83 670.28,270.83 682.16,270.83 694.04,270.83 705.93,270.83 717.81,270.83 729.7,270.83 741.58,270.83 753.46,270.91 765.35,270.99 777.23,271.06 789.12,271.14 801,271.22"/>
<path d="M503.9 287.12L498.4 296.25L509.4 296.25Z" fill="#ffa500"/><path d="M515.78 283.23L510.28 292.36L521.28 292.36Z" fill="#ffa500"/><path d="M527.67 279.23L522.17 288.36L533.17 288.36Z" fill="#ffa500"/><path d="M539.55 275.84L534.05 284.97L545.05 284.97Z" fill="#ffa500"/><path d="M551.44 272.95L545.94 282.08L556.94 282.08Z" fill="#ffa500"/><path d="M563.32 271.01L557.82 280.14L568.82 280.14Z" fill="#ffa500"/><path d="M575.2 269.34L569.7 278.47L580.7 278.47Z" fill="#ffa500"/><path d="M587.09 267.95L581.59 277.08L592.59 277.08Z" fill="#ffa500"/><path d="M598.97 266.73L593.47 275.86L604.47 275.86Z" fill="#ffa500"/><path d="M610.86 265.73L605.36 274.86L616.36 274.86Z" fill="#ffa500"/><path d="M622.74 264.95L617.24 274.08L628.24 274.08Z" fill="#ffa500"/><path d="M634.62 264.62L629.12 273.75L640.12 273.75Z" fill="#ffa500"/><path d="M646.51 264.15L641.01 273.28L652.01 273.28Z" fill="#ffa500"/><path d="M658.39 264.34L652.89 273.47L663.89 273.47Z" fill="#ffa500"/><path d="M670.28 264.34L664.78 273.47L675.78 273.47Z" fill="#ffa500"/><path d="M682.16 264.34L676.66 273.47L687.66 273.47Z" fill="#ffa500"/><path d="M694.04 264.34L688.54 273.47L699.54 273.47Z" fill="#ffa500"/><path d="M705.93 264.34L700.43 273.47L711.43 273.47Z" fill="#ffa500"/><path d="M717.81 264.34L712.31 273.47L723.31 273.47Z" fill="#ffa500"/><path d="M729.7 264.34L724.2 273.47L735.2 273.47Z" fill="#ffa500"/><path d="M741.58 264.34L736.08 273.47L747.08 273.47Z" fill="#ffa500"/><path d="M753.46 264.42L747.96 273.55L758.96 273.55Z" fill="#ffa500"/><path d="M765.35 264.5L759.85 273.63L770.85 273.63Z" fill="#ffa500"/><path d="M777.23 264.57L771.73 273.7L782.73 273.7Z" fill="#ffa500"/><path d="M789.12 264.65L783.62 273.78L794.62 273.78Z" fill="#ffa500"/><path d="M801 264.73L795.5 273.86L806.5 273.86Z" fill="#ffa500"/>
<polyline clip-path="url(#clipd)" fill="none" stroke="#ffa500" stroke-width="1.25" points="503.9,294.44 515.78,287.11 527.67,281.11 539.55,276.22 551.44,272.22 563.32,269.25 575.2,267.27 587.09,265.69 598.97,264.3 610.86,263.33 622.74,262.77 634.62,262.33 646.51,261.94 658.39,261.94 670.28,262.13 682.16,262.33 694.04,262.61 705.93,262.88 717.81,263.16 729.7,263.44 741.58,263.72 753.46,264.15 765.35,264.59 777.23,265.02 789.12,265.45 801,265.89"/>
<circle cx="503.9" cy="294.44" r="5.5" fill="#ffa500"/><circle cx="515.78" cy="287.11" r="5.5" fill="#ffa500"/><circle cx="527.67" cy="281.11" r="5.5" fill="#ffa500"/><circle cx="539.55" cy="276.22" r="5.5" fill="#ffa500"/><circle cx="551.44" cy="272.22" r="5.5" fill="#ffa500"/><circle cx="563.32" cy="269.25" r="5.5" fill="#ffa500"/><circle cx="575.2" cy="267.27" r="5.5" fill="#ffa500"/><circle cx="587.09" cy="265.69" r="5.5" fill="#ffa500"/><circle cx="598.97" cy="264.3" r="5.5" fill="#ffa500"/><circle cx="610.86" cy="263.33" r="5.5" fill="#ffa500"/><circle cx="622.74" cy="262.77" r="5.5" fill="#ffa500"/><circle cx="634.62" cy="262.33" r="5.5" fill="#ffa500"/><circle cx="646.51" cy="261.94" r="5.5" fill="#ffa500"/><circle cx="658.39" cy="261.94" r="5.5" fill="#ffa500"/><circle cx="670.28" cy="262.13" r="5.5" fill="#ffa500"/><circle cx="682.16" cy="262.33" r="5.5" fill="#ffa500"/><circle cx="694.04" cy="262.61" r="5.5" fill="#ffa500"/><circle cx="705.93" cy="262.88" r="5.5" fill="#ffa500"/><circle cx="717.81" cy="263.16" r="5.5" fill="#ffa500"/><circle cx="729.7" cy="263.44" r="5.5" fill="#ffa500"/><circle cx="741.58" cy="263.72" r="5.5" fill="#ffa500"/><circle cx="753.46" cy="264.15" r="5.5" fill="#ffa500"/><circle cx="765.35" cy="264.59" r="5.5" fill="#ffa500"/><circle cx="777.23" cy="265.02" r="5.5" fill="#ffa500"/><circle cx="789.12" cy="265.45" r="5.5" fill="#ffa500"/><circle cx="801" cy="265.89" r="5.5" fill="#ffa500"/>
<rect x="503.9" y="72.75" width="297.1" height="222.25" fill="none" stroke="#000" stroke-width="1.6"/>
<g transform="translate(506.7 318.7) scale(0.955 1)"><text class="tk" x="-6.67" y="0">0</text></g><g transform="translate(566.12 318.7) scale(0.955 1)"><text class="tk" x="-6.67" y="0">2</text></g><g transform="translate(625.54 318.7) scale(0.955 1)"><text class="tk" x="-6.67" y="0">4</text></g><g transform="translate(684.96 318.7) scale(0.955 1)"><text class="tk" x="-6.67" y="0">6</text></g><g transform="translate(744.38 318.7) scale(0.955 1)"><text class="tk" x="-6.67" y="0">8</text></g><g transform="translate(803.8 318.7) scale(0.955 1)"><text class="tk" x="0" y="0">0</text><path d="M-7.78 0L-7.78 -10.85L-11.57 -10.85L-11.57 -13.15L-9.26 -13.44L-7.06 -16.8L-3.7 -16.8L-3.7 0Z"/></g><g transform="translate(497.4 303.3) scale(0.975 1)"><text class="tk" x="-13.34" y="0">0</text></g><g transform="translate(497.4 247.74) scale(0.975 1)"><text class="tk" x="-46.7 -33.36 -26.69 -13.34" y="0">0.02</text></g><g transform="translate(497.4 192.18) scale(0.975 1)"><text class="tk" x="-46.7 -33.36 -26.69 -13.34" y="0">0.04</text></g><g transform="translate(497.4 136.61) scale(0.975 1)"><text class="tk" x="-46.7 -33.36 -26.69 -13.34" y="0">0.06</text></g><g transform="translate(497.4 81.05) scale(0.975 1)"><text class="tk" x="-46.7 -33.36 -26.69 -13.34" y="0">0.08</text></g>
<path d="M119.22 587v-7.7 M119.22 363.1v7.7 M172.57 587v-7.7 M172.57 363.1v7.7 M225.93 587v-7.7 M225.93 363.1v7.7 M279.29 587v-7.7 M279.29 363.1v7.7 M332.64 587v-7.7 M332.64 363.1v7.7 M386 587v-7.7 M386 363.1v7.7 M79.2 542.22h7.7 M386 542.22h-7.7 M79.2 452.66h7.7 M386 452.66h-7.7 M79.2 363.1h7.7 M386 363.1h-7.7" stroke="#000" stroke-width="0.9" fill="none"/>
<polyline clip-path="url(#clipa)" fill="none" stroke="#ff0000" stroke-width="1.25" points="79.2,364 105.88,368.47 132.56,375.46 159.23,389.65 185.91,399.91 212.59,411.91 239.27,421.22 265.95,429.96 292.63,437.12 319.3,443.3 345.98,448.36 372.66,452.66 386,454.59"/>
<rect x="73.7" y="358.5" width="11" height="11" fill="#ff0000"/><rect x="100.38" y="362.97" width="11" height="11" fill="#ff0000"/><rect x="127.06" y="369.96" width="11" height="11" fill="#ff0000"/><rect x="153.73" y="384.15" width="11" height="11" fill="#ff0000"/><rect x="180.41" y="394.41" width="11" height="11" fill="#ff0000"/><rect x="207.09" y="406.41" width="11" height="11" fill="#ff0000"/><rect x="233.77" y="415.72" width="11" height="11" fill="#ff0000"/><rect x="260.45" y="424.46" width="11" height="11" fill="#ff0000"/><rect x="287.13" y="431.62" width="11" height="11" fill="#ff0000"/><rect x="313.8" y="437.8" width="11" height="11" fill="#ff0000"/><rect x="340.48" y="442.86" width="11" height="11" fill="#ff0000"/><rect x="367.16" y="447.16" width="11" height="11" fill="#ff0000"/>
<polyline clip-path="url(#clipa)" fill="none" stroke="#ff0000" stroke-width="1.25" points="79.2,494.98 105.88,495.54 132.56,496.34 159.23,497.26 185.91,498.28 212.59,499.37 239.27,500.52 265.95,501.73 292.63,502.99 319.3,504.29 345.98,505.63 372.66,507.02 386,507.72"/>
<path d="M79.2 488.49L73.7 497.62L84.7 497.62Z" fill="#ff0000"/><path d="M105.88 489.05L100.38 498.18L111.38 498.18Z" fill="#ff0000"/><path d="M132.56 489.85L127.06 498.98L138.06 498.98Z" fill="#ff0000"/><path d="M159.23 490.77L153.73 499.9L164.73 499.9Z" fill="#ff0000"/><path d="M185.91 491.79L180.41 500.92L191.41 500.92Z" fill="#ff0000"/><path d="M212.59 492.88L207.09 502.01L218.09 502.01Z" fill="#ff0000"/><path d="M239.27 494.03L233.77 503.16L244.77 503.16Z" fill="#ff0000"/><path d="M265.95 495.24L260.45 504.37L271.45 504.37Z" fill="#ff0000"/><path d="M292.63 496.5L287.13 505.63L298.13 505.63Z" fill="#ff0000"/><path d="M319.3 497.8L313.8 506.93L324.8 506.93Z" fill="#ff0000"/><path d="M345.98 499.14L340.48 508.27L351.48 508.27Z" fill="#ff0000"/><path d="M372.66 500.53L367.16 509.66L378.16 509.66Z" fill="#ff0000"/>
<polyline clip-path="url(#clipa)" fill="none" stroke="#ff0000" stroke-width="1.25" points="79.2,372.77 105.88,373.18 132.56,376.09 159.23,381.91 185.91,385.8 212.59,390.24 239.27,394.09 265.95,398.74 292.63,403.22 319.3,407.12 345.98,410.57 372.66,413.48 386,414.87"/>
<circle cx="79.2" cy="372.77" r="5.5" fill="#ff0000"/><circle cx="105.88" cy="373.18" r="5.5" fill="#ff0000"/><circle cx="132.56" cy="376.09" r="5.5" fill="#ff0000"/><circle cx="159.23" cy="381.91" r="5.5" fill="#ff0000"/><circle cx="185.91" cy="385.8" r="5.5" fill="#ff0000"/><circle cx="212.59" cy="390.24" r="5.5" fill="#ff0000"/><circle cx="239.27" cy="394.09" r="5.5" fill="#ff0000"/><circle cx="265.95" cy="398.74" r="5.5" fill="#ff0000"/><circle cx="292.63" cy="403.22" r="5.5" fill="#ff0000"/><circle cx="319.3" cy="407.12" r="5.5" fill="#ff0000"/><circle cx="345.98" cy="410.57" r="5.5" fill="#ff0000"/><circle cx="372.66" cy="413.48" r="5.5" fill="#ff0000"/>
<polyline clip-path="url(#clipa)" fill="none" stroke="#00ff00" stroke-width="5.3" stroke-dasharray="10.4 15.5" stroke-dashoffset="0" points="79.2,365.43 79.71,365.61 80.22,365.8 80.73,365.99 81.25,366.19 81.76,366.4 82.27,366.61 82.78,366.83 83.29,367.05 83.8,367.28 84.31,367.52 84.82,367.76 85.34,368.01 85.85,368.27 86.36,368.53 86.87,368.8 87.38,369.07 87.89,369.35 88.4,369.63 88.92,369.93 89.43,370.22 89.94,370.52 90.45,370.83 90.96,371.14 91.47,371.46 91.98,371.79 92.49,372.12 93.01,372.45 93.52,372.79 94.03,373.14 94.54,373.49 95.05,373.84 95.56,374.21 96.07,374.57 96.59,374.94 97.1,375.32 97.61,375.7 98.12,376.08 98.63,376.47 99.14,376.87 99.65,377.27 100.16,377.67 100.68,378.08 101.19,378.49 101.7,378.91 102.21,379.33 102.72,379.76 103.23,380.19 103.74,380.62 104.26,381.06 104.77,381.5 105.28,381.95 105.79,382.4 106.3,382.85 106.81,383.31 107.32,383.77 107.83,384.23 108.35,384.7 108.86,385.17 109.37,385.65 109.88,386.13 110.39,386.61 110.9,387.09 111.41,387.58 111.93,388.07 112.44,388.57 112.95,389.06 113.46,389.56 113.97,390.07 114.48,390.57 114.99,391.08 115.5,391.59 116.02,392.1 116.53,392.62 117.04,393.14 117.55,393.66 118.06,394.18 118.57,394.71 119.08,395.24 119.6,395.77 120.11,396.3 120.62,396.83 121.13,397.37 121.64,397.91 122.15,398.45 122.66,398.99 123.17,399.53 123.69,400.08 124.2,400.62 124.71,401.17 125.22,401.72 125.73,402.27 126.24,402.83 126.75,403.38 127.27,403.93 127.78,404.49 128.29,405.05 128.8,405.61 129.31,406.17 129.82,406.73 130.33,407.29 130.84,407.85 131.36,408.42 131.87,408.98 132.38,409.55 132.89,410.12 133.4,410.68 133.91,411.25 134.42,411.82 134.94,412.39 135.45,412.96 135.96,413.53 136.47,414.1 136.98,414.67 137.49,415.24 138,415.81 138.51,416.38 139.03,416.95 139.54,417.52 140.05,418.1 140.56,418.67 141.07,419.24 141.58,419.81 142.09,420.38 142.61,420.96 143.12,421.53 143.63,422.1 144.14,422.67 144.65,423.24 145.16,423.81 145.67,424.38 146.18,424.95 146.7,425.52 147.21,426.09 147.72,426.66 148.23,427.23 148.74,427.8 149.25,428.36 149.76,428.93 150.28,429.5 150.79,430.06 151.3,430.63 151.81,431.19 152.32,431.75 152.83,432.32 153.34,432.88 153.85,433.44 154.37,434 154.88,434.56 155.39,435.12 155.9,435.68 156.41,436.23 156.92,436.79 157.43,437.34 157.95,437.9 158.46,438.45 158.97,439 159.48,439.55 159.99,440.1 160.5,440.65 161.01,441.2 161.52,441.74 162.04,442.29 162.55,442.83 163.06,443.37 163.57,443.91 164.08,444.45 164.59,444.99 165.1,445.53 165.62,446.07 166.13,446.6 166.64,447.13 167.15,447.67 167.66,448.2 168.17,448.73 168.68,449.25 169.19,449.78 169.71,450.31 170.22,450.83 170.73,451.35 171.24,451.87 171.75,452.39 172.26,452.91 172.77,453.43 173.29,453.94 173.8,454.45 174.31,454.96 174.82,455.47 175.33,455.98 175.84,456.49 176.35,457 176.86,457.5 177.38,458 177.89,458.5 178.4,459 178.91,459.5 179.42,459.99 179.93,460.49 180.44,460.98 180.96,461.47 181.47,461.96 181.98,462.45 182.49,462.93 183,463.42 183.51,463.9 184.02,464.38 184.53,464.86 185.05,465.34 185.56,465.81 186.07,466.29 186.58,466.76 187.09,467.23 187.6,467.7 188.11,468.17 188.63,468.63 189.14,469.1 189.65,469.56 190.16,470.02 190.67,470.48 191.18,470.94 191.69,471.39 192.2,471.85 192.72,472.3 193.23,472.75 193.74,473.2 194.25,473.64 194.76,474.09 195.27,474.53 195.78,474.97 196.3,475.41 196.81,475.85 197.32,476.29 197.83,476.72 198.34,477.15 198.85,477.58 199.36,478.01 199.87,478.44 200.39,478.87 200.9,479.29 201.41,479.71 201.92,480.13 202.43,480.55 202.94,480.97 203.45,481.39 203.97,481.8 204.48,482.21 204.99,482.62 205.5,483.03 206.01,483.44 206.52,483.84 207.03,484.25 207.54,484.65 208.06,485.05 208.57,485.45 209.08,485.84 209.59,486.24 210.1,486.63 210.61,487.03 211.12,487.42 211.64,487.8 212.15,488.19 212.66,488.58 213.17,488.96 213.68,489.34 214.19,489.72 214.7,490.1 215.21,490.48 215.73,490.85 216.24,491.22 216.75,491.6 217.26,491.97 217.77,492.34 218.28,492.7 218.79,493.07 219.31,493.43 219.82,493.79 220.33,494.15 220.84,494.51 221.35,494.87 221.86,495.23 222.37,495.58 222.88,495.93 223.4,496.28 223.91,496.63 224.42,496.98 224.93,497.33 225.44,497.67 225.95,498.02 226.46,498.36 226.98,498.7 227.49,499.04 228,499.37 228.51,499.71 229.02,500.04 229.53,500.38 230.04,500.71 230.55,501.04 231.07,501.37 231.58,501.69 232.09,502.02 232.6,502.34 233.11,502.66 233.62,502.98 234.13,503.3 234.65,503.62 235.16,503.94 235.67,504.25 236.18,504.57 236.69,504.88 237.2,505.19 237.71,505.5 238.22,505.81 238.74,506.11 239.25,506.42 239.76,506.72 240.27,507.02 240.78,507.32 241.29,507.62 241.8,507.92 242.32,508.22 242.83,508.51 243.34,508.81 243.85,509.1 244.36,509.39 244.87,509.68 245.38,509.97 245.89,510.26 246.41,510.54 246.92,510.83 247.43,511.11 247.94,511.39 248.45,511.67 248.96,511.95 249.47,512.23 249.99,512.51 250.5,512.78 251.01,513.06 251.52,513.33 252.03,513.6 252.54,513.87 253.05,514.14 253.56,514.41 254.08,514.67 254.59,514.94 255.1,515.2 255.61,515.47 256.12,515.73 256.63,515.99 257.14,516.25 257.66,516.51 258.17,516.76 258.68,517.02 259.19,517.27 259.7,517.53 260.21,517.78 260.72,518.03 261.23,518.28 261.75,518.53 262.26,518.78 262.77,519.02 263.28,519.27 263.79,519.51 264.3,519.76 264.81,520 265.33,520.24 265.84,520.48 266.35,520.72 266.86,520.95 267.37,521.19 267.88,521.43 268.39,521.66 268.9,521.89 269.42,522.12 269.93,522.36 270.44,522.59 270.95,522.81 271.46,523.04 271.97,523.27 272.48,523.49 273,523.72 273.51,523.94 274.02,524.17 274.53,524.39 275.04,524.61 275.55,524.83 276.06,525.05 276.57,525.26 277.09,525.48 277.6,525.7 278.11,525.91 278.62,526.12 279.13,526.34 279.64,526.55 280.15,526.76 280.67,526.97 281.18,527.18 281.69,527.38 282.2,527.59 282.71,527.8 283.22,528 283.73,528.21 284.24,528.41 284.76,528.61 285.27,528.81 285.78,529.01 286.29,529.21 286.8,529.41 287.31,529.61 287.82,529.8 288.34,530 288.85,530.19 289.36,530.39 289.87,530.58 290.38,530.77 290.89,530.97 291.4,531.16 291.91,531.35 292.43,531.53 292.94,531.72 293.45,531.91 293.96,532.1 294.47,532.28 294.98,532.47 295.49,532.65 296.01,532.83 296.52,533.01 297.03,533.2 297.54,533.38 298.05,533.56 298.56,533.73 299.07,533.91 299.58,534.09 300.1,534.27 300.61,534.44 301.12,534.62 301.63,534.79 302.14,534.96 302.65,535.14 303.16,535.31 303.68,535.48 304.19,535.65 304.7,535.82 305.21,535.99 305.72,536.16 306.23,536.32 306.74,536.49 307.25,536.65 307.77,536.82 308.28,536.98 308.79,537.15 309.3,537.31 309.81,537.47 310.32,537.63 310.83,537.79 311.35,537.95 311.86,538.11 312.37,538.27 312.88,538.43 313.39,538.59 313.9,538.74 314.41,538.9 314.92,539.05 315.44,539.21 315.95,539.36 316.46,539.51 316.97,539.67 317.48,539.82 317.99,539.97 318.5,540.12 319.02,540.27 319.53,540.42 320.04,540.57 320.55,540.72 321.06,540.86 321.57,541.01 322.08,541.15 322.59,541.3 323.11,541.44 323.62,541.59 324.13,541.73 324.64,541.87 325.15,542.02 325.66,542.16 326.17,542.3 326.69,542.44 327.2,542.58 327.71,542.72 328.22,542.86 328.73,542.99 329.24,543.13 329.75,543.27 330.26,543.4 330.78,543.54 331.29,543.67 331.8,543.81 332.31,543.94 332.82,544.08 333.33,544.21 333.84,544.34 334.36,544.47 334.87,544.6 335.38,544.73 335.89,544.86 336.4,544.99 336.91,545.12 337.42,545.25 337.93,545.38 338.45,545.5 338.96,545.63 339.47,545.76 339.98,545.88 340.49,546.01 341,546.13 341.51,546.26 342.03,546.38 342.54,546.5 343.05,546.62 343.56,546.75 344.07,546.87 344.58,546.99 345.09,547.11 345.6,547.23 346.12,547.35 346.63,547.47 347.14,547.58 347.65,547.7 348.16,547.82 348.67,547.94 349.18,548.05 349.7,548.17 350.21,548.28 350.72,548.4 351.23,548.51 351.74,548.63 352.25,548.74 352.76,548.85 353.27,548.97 353.79,549.08 354.3,549.19 354.81,549.3 355.32,549.41 355.83,549.52 356.34,549.63 356.85,549.74 357.37,549.85 357.88,549.96 358.39,550.07 358.9,550.17 359.41,550.28 359.92,550.39 360.43,550.5 360.94,550.6 361.46,550.71 361.97,550.81 362.48,550.92 362.99,551.02 363.5,551.12 364.01,551.23 364.52,551.33 365.04,551.43 365.55,551.53 366.06,551.64 366.57,551.74 367.08,551.84 367.59,551.94 368.1,552.04 368.61,552.14 369.13,552.24 369.64,552.34 370.15,552.43 370.66,552.53 371.17,552.63 371.68,552.73 372.19,552.82 372.71,552.92 373.22,553.02 373.73,553.11 374.24,553.21 374.75,553.3 375.26,553.4 375.77,553.49 376.28,553.59 376.8,553.68 377.31,553.77 377.82,553.87 378.33,553.96 378.84,554.05 379.35,554.14 379.86,554.23 380.38,554.32 380.89,554.41 381.4,554.5 381.91,554.59 382.42,554.68 382.93,554.77 383.44,554.86 383.95,554.95 384.47,555.04 384.98,555.13 385.49,555.21 386,555.3"/>
<polyline clip-path="url(#clipa)" fill="none" stroke="#ffa500" stroke-width="1.25" points="79.2,363.1 105.88,364.44 132.56,366.01 159.23,368.74 185.91,371.61 212.59,374.74 239.27,378.59 265.95,381.91 292.63,385.22 319.3,388.31 345.98,391.22 372.66,393.55 386,394.45"/>
<rect x="73.7" y="357.6" width="11" height="11" fill="#ffa500"/><rect x="100.38" y="358.94" width="11" height="11" fill="#ffa500"/><rect x="127.06" y="360.51" width="11" height="11" fill="#ffa500"/><rect x="153.73" y="363.24" width="11" height="11" fill="#ffa500"/><rect x="180.41" y="366.11" width="11" height="11" fill="#ffa500"/><rect x="207.09" y="369.24" width="11" height="11" fill="#ffa500"/><rect x="233.77" y="373.09" width="11" height="11" fill="#ffa500"/><rect x="260.45" y="376.41" width="11" height="11" fill="#ffa500"/><rect x="287.13" y="379.72" width="11" height="11" fill="#ffa500"/><rect x="313.8" y="382.81" width="11" height="11" fill="#ffa500"/><rect x="340.48" y="385.72" width="11" height="11" fill="#ffa500"/><rect x="367.16" y="388.05" width="11" height="11" fill="#ffa500"/>
<polyline clip-path="url(#clipa)" fill="none" stroke="#ffa500" stroke-width="1.25" points="79.2,408.06 105.88,408.09 132.56,408.19 159.23,408.35 185.91,408.57 212.59,408.87 239.27,409.22 265.95,409.64 292.63,410.12 319.3,410.67 345.98,411.28 372.66,411.96 386,412.32"/>
<path d="M79.2 401.57L73.7 410.7L84.7 410.7Z" fill="#ffa500"/><path d="M105.88 401.6L100.38 410.73L111.38 410.73Z" fill="#ffa500"/><path d="M132.56 401.7L127.06 410.83L138.06 410.83Z" fill="#ffa500"/><path d="M159.23 401.86L153.73 410.99L164.73 410.99Z" fill="#ffa500"/><path d="M185.91 402.08L180.41 411.21L191.41 411.21Z" fill="#ffa500"/><path d="M212.59 402.38L207.09 411.51L218.09 411.51Z" fill="#ffa500"/><path d="M239.27 402.73L233.77 411.86L244.77 411.86Z" fill="#ffa500"/><path d="M265.95 403.15L260.45 412.28L271.45 412.28Z" fill="#ffa500"/><path d="M292.63 403.63L287.13 412.76L298.13 412.76Z" fill="#ffa500"/><path d="M319.3 404.18L313.8 413.31L324.8 413.31Z" fill="#ffa500"/><path d="M345.98 404.79L340.48 413.92L351.48 413.92Z" fill="#ffa500"/><path d="M372.66 405.47L367.16 414.6L378.16 414.6Z" fill="#ffa500"/>
<polyline clip-path="url(#clipa)" fill="none" stroke="#ffa500" stroke-width="1.25" points="79.2,380.92 105.88,380.97 132.56,381.19 159.23,381.68 185.91,382.36 212.59,383.03 239.27,383.7 265.95,384.42 292.63,385.13 319.3,385.85 345.98,386.74 372.66,387.73 386,388.18"/>
<circle cx="79.2" cy="380.92" r="5.5" fill="#ffa500"/><circle cx="105.88" cy="380.97" r="5.5" fill="#ffa500"/><circle cx="132.56" cy="381.19" r="5.5" fill="#ffa500"/><circle cx="159.23" cy="381.68" r="5.5" fill="#ffa500"/><circle cx="185.91" cy="382.36" r="5.5" fill="#ffa500"/><circle cx="212.59" cy="383.03" r="5.5" fill="#ffa500"/><circle cx="239.27" cy="383.7" r="5.5" fill="#ffa500"/><circle cx="265.95" cy="384.42" r="5.5" fill="#ffa500"/><circle cx="292.63" cy="385.13" r="5.5" fill="#ffa500"/><circle cx="319.3" cy="385.85" r="5.5" fill="#ffa500"/><circle cx="345.98" cy="386.74" r="5.5" fill="#ffa500"/><circle cx="372.66" cy="387.73" r="5.5" fill="#ffa500"/>
<rect x="79.2" y="363.1" width="306.8" height="223.9" fill="none" stroke="#000" stroke-width="1.6"/>
<g transform="translate(122.02 606.1) scale(0.955 1)"><text class="tk" x="-16.68 -3.34 3.34" y="0">0.4</text></g><g transform="translate(175.37 606.1) scale(0.955 1)"><text class="tk" x="-16.68 -3.34 3.34" y="0">0.8</text></g><g transform="translate(228.73 606.1) scale(0.955 1)"><text class="tk" x="-3.34 3.34" y="0">.2</text><path d="M-11.11 0L-11.11 -10.85L-14.9 -10.85L-14.9 -13.15L-12.6 -13.44L-10.39 -16.8L-7.03 -16.8L-7.03 0Z"/></g><g transform="translate(282.09 606.1) scale(0.955 1)"><text class="tk" x="-3.34 3.34" y="0">.6</text><path d="M-11.11 0L-11.11 -10.85L-14.9 -10.85L-14.9 -13.15L-12.6 -13.44L-10.39 -16.8L-7.03 -16.8L-7.03 0Z"/></g><g transform="translate(335.44 606.1) scale(0.955 1)"><text class="tk" x="-6.67" y="0">2</text></g><g transform="translate(388.8 606.1) scale(0.955 1)"><text class="tk" x="-16.68 -3.34 3.34" y="0">2.4</text></g><g transform="translate(72.7 550.52) scale(0.975 1)"><text class="tk" x="-33.36 -20.02 -13.34" y="0">0.6</text></g><g transform="translate(72.7 460.96) scale(0.975 1)"><text class="tk" x="-33.36 -20.02 -13.34" y="0">0.8</text></g><g transform="translate(72.7 371.4) scale(0.975 1)"><path d="M-7.78 0L-7.78 -10.85L-11.57 -10.85L-11.57 -13.15L-9.26 -13.44L-7.06 -16.8L-3.7 -16.8L-3.7 0Z"/></g>
<path d="M542.65 587v-7.7 M542.65 363.1v7.7 M594.32 587v-7.7 M594.32 363.1v7.7 M645.99 587v-7.7 M645.99 363.1v7.7 M697.66 587v-7.7 M697.66 363.1v7.7 M749.33 587v-7.7 M749.33 363.1v7.7 M801 587v-7.7 M801 363.1v7.7 M503.9 587h7.7 M801 587h-7.7 M503.9 512.37h7.7 M801 512.37h-7.7 M503.9 437.73h7.7 M801 437.73h-7.7 M503.9 363.1h7.7 M801 363.1h-7.7" stroke="#000" stroke-width="0.9" fill="none"/>
<polyline clip-path="url(#clipb)" fill="none" stroke="#ff0000" stroke-width="1.25" points="503.9,584.01 529.73,561.14 555.57,524.72 581.4,487.92 607.24,459.19 633.07,443.26 658.91,438.37 684.74,440.01 710.58,446.61 736.41,455.16 762.25,465.35 788.08,475.05 801,479.98"/>
<rect x="498.4" y="578.51" width="11" height="11" fill="#ff0000"/><rect x="524.23" y="555.64" width="11" height="11" fill="#ff0000"/><rect x="550.07" y="519.22" width="11" height="11" fill="#ff0000"/><rect x="575.9" y="482.42" width="11" height="11" fill="#ff0000"/><rect x="601.74" y="453.69" width="11" height="11" fill="#ff0000"/><rect x="627.57" y="437.76" width="11" height="11" fill="#ff0000"/><rect x="653.41" y="432.87" width="11" height="11" fill="#ff0000"/><rect x="679.24" y="434.51" width="11" height="11" fill="#ff0000"/><rect x="705.08" y="441.11" width="11" height="11" fill="#ff0000"/><rect x="730.91" y="449.66" width="11" height="11" fill="#ff0000"/><rect x="756.75" y="459.85" width="11" height="11" fill="#ff0000"/><rect x="782.58" y="469.55" width="11" height="11" fill="#ff0000"/>
<polyline clip-path="url(#clipb)" fill="none" stroke="#ff0000" stroke-width="1.25" points="503.9,587 529.73,585.88 555.57,584.01 581.4,580.84 607.24,576.92 633.07,571.89 658.91,567.82 684.74,563.71 710.58,560.39 736.41,557.63 762.25,555.73 788.08,554.35 801,553.79"/>
<path d="M503.9 580.51L498.4 589.64L509.4 589.64Z" fill="#ff0000"/><path d="M529.73 579.39L524.23 588.52L535.23 588.52Z" fill="#ff0000"/><path d="M555.57 577.52L550.07 586.65L561.07 586.65Z" fill="#ff0000"/><path d="M581.4 574.35L575.9 583.48L586.9 583.48Z" fill="#ff0000"/><path d="M607.24 570.43L601.74 579.56L612.74 579.56Z" fill="#ff0000"/><path d="M633.07 565.4L627.57 574.53L638.57 574.53Z" fill="#ff0000"/><path d="M658.91 561.33L653.41 570.46L664.41 570.46Z" fill="#ff0000"/><path d="M684.74 557.22L679.24 566.35L690.24 566.35Z" fill="#ff0000"/><path d="M710.58 553.9L705.08 563.03L716.08 563.03Z" fill="#ff0000"/><path d="M736.41 551.14L730.91 560.27L741.91 560.27Z" fill="#ff0000"/><path d="M762.25 549.24L756.75 558.37L767.75 558.37Z" fill="#ff0000"/><path d="M788.08 547.86L782.58 556.99L793.58 556.99Z" fill="#ff0000"/>
<polyline clip-path="url(#clipb)" fill="none" stroke="#ff0000" stroke-width="1.25" points="503.9,585.88 529.73,578.42 555.57,566.1 581.4,550.58 607.24,535.69 633.07,522.74 658.91,512.74 684.74,507.22 710.58,504.49 736.41,504.19 762.25,505.87 788.08,508.63 801,510.87"/>
<circle cx="503.9" cy="585.88" r="5.5" fill="#ff0000"/><circle cx="529.73" cy="578.42" r="5.5" fill="#ff0000"/><circle cx="555.57" cy="566.1" r="5.5" fill="#ff0000"/><circle cx="581.4" cy="550.58" r="5.5" fill="#ff0000"/><circle cx="607.24" cy="535.69" r="5.5" fill="#ff0000"/><circle cx="633.07" cy="522.74" r="5.5" fill="#ff0000"/><circle cx="658.91" cy="512.74" r="5.5" fill="#ff0000"/><circle cx="684.74" cy="507.22" r="5.5" fill="#ff0000"/><circle cx="710.58" cy="504.49" r="5.5" fill="#ff0000"/><circle cx="736.41" cy="504.19" r="5.5" fill="#ff0000"/><circle cx="762.25" cy="505.87" r="5.5" fill="#ff0000"/><circle cx="788.08" cy="508.63" r="5.5" fill="#ff0000"/>
<polyline clip-path="url(#clipb)" fill="none" stroke="#ffa500" stroke-width="1.25" points="503.9,587 529.73,581.4 555.57,573.57 581.4,562.52 607.24,551.55 633.07,541.66 658.91,533.67 684.74,528.15 710.58,524.57 736.41,522.67 762.25,522.37 788.08,523.19 801,524.31"/>
<rect x="498.4" y="581.5" width="11" height="11" fill="#ffa500"/><rect x="524.23" y="575.9" width="11" height="11" fill="#ffa500"/><rect x="550.07" y="568.07" width="11" height="11" fill="#ffa500"/><rect x="575.9" y="557.02" width="11" height="11" fill="#ffa500"/><rect x="601.74" y="546.05" width="11" height="11" fill="#ffa500"/><rect x="627.57" y="536.16" width="11" height="11" fill="#ffa500"/><rect x="653.41" y="528.17" width="11" height="11" fill="#ffa500"/><rect x="679.24" y="522.65" width="11" height="11" fill="#ffa500"/><rect x="705.08" y="519.07" width="11" height="11" fill="#ffa500"/><rect x="730.91" y="517.17" width="11" height="11" fill="#ffa500"/><rect x="756.75" y="516.87" width="11" height="11" fill="#ffa500"/><rect x="782.58" y="517.69" width="11" height="11" fill="#ffa500"/>
<polyline clip-path="url(#clipb)" fill="none" stroke="#ffa500" stroke-width="1.25" points="503.9,587 529.73,586.63 555.57,585.88 581.4,584.76 607.24,583.42 633.07,581.78 658.91,579.69 684.74,578.04 710.58,576.18 736.41,574.69 762.25,573.08 788.08,571.96 801,571.14"/>
<path d="M503.9 580.51L498.4 589.64L509.4 589.64Z" fill="#ffa500"/><path d="M529.73 580.14L524.23 589.27L535.23 589.27Z" fill="#ffa500"/><path d="M555.57 579.39L550.07 588.52L561.07 588.52Z" fill="#ffa500"/><path d="M581.4 578.27L575.9 587.4L586.9 587.4Z" fill="#ffa500"/><path d="M607.24 576.93L601.74 586.06L612.74 586.06Z" fill="#ffa500"/><path d="M633.07 575.29L627.57 584.42L638.57 584.42Z" fill="#ffa500"/><path d="M658.91 573.2L653.41 582.33L664.41 582.33Z" fill="#ffa500"/><path d="M684.74 571.55L679.24 580.68L690.24 580.68Z" fill="#ffa500"/><path d="M710.58 569.69L705.08 578.82L716.08 578.82Z" fill="#ffa500"/><path d="M736.41 568.2L730.91 577.33L741.91 577.33Z" fill="#ffa500"/><path d="M762.25 566.59L756.75 575.72L767.75 575.72Z" fill="#ffa500"/><path d="M788.08 565.47L782.58 574.6L793.58 574.6Z" fill="#ffa500"/>
<polyline clip-path="url(#clipb)" fill="none" stroke="#ffa500" stroke-width="1.25" points="503.9,587 529.73,585.51 555.57,584.76 581.4,583.01 607.24,581.03 633.07,578.42 658.91,576.18 684.74,573.34 710.58,570.84 736.41,568.71 762.25,566.74 788.08,565.06 801,564.24"/>
<circle cx="503.9" cy="587" r="5.5" fill="#ffa500"/><circle cx="529.73" cy="585.51" r="5.5" fill="#ffa500"/><circle cx="555.57" cy="584.76" r="5.5" fill="#ffa500"/><circle cx="581.4" cy="583.01" r="5.5" fill="#ffa500"/><circle cx="607.24" cy="581.03" r="5.5" fill="#ffa500"/><circle cx="633.07" cy="578.42" r="5.5" fill="#ffa500"/><circle cx="658.91" cy="576.18" r="5.5" fill="#ffa500"/><circle cx="684.74" cy="573.34" r="5.5" fill="#ffa500"/><circle cx="710.58" cy="570.84" r="5.5" fill="#ffa500"/><circle cx="736.41" cy="568.71" r="5.5" fill="#ffa500"/><circle cx="762.25" cy="566.74" r="5.5" fill="#ffa500"/><circle cx="788.08" cy="565.06" r="5.5" fill="#ffa500"/>
<rect x="503.9" y="363.1" width="297.1" height="223.9" fill="none" stroke="#000" stroke-width="1.6"/>
<g transform="translate(545.45 606.1) scale(0.955 1)"><text class="tk" x="-16.68 -3.34 3.34" y="0">0.4</text></g><g transform="translate(597.12 606.1) scale(0.955 1)"><text class="tk" x="-16.68 -3.34 3.34" y="0">0.8</text></g><g transform="translate(648.79 606.1) scale(0.955 1)"><text class="tk" x="-3.34 3.34" y="0">.2</text><path d="M-11.11 0L-11.11 -10.85L-14.9 -10.85L-14.9 -13.15L-12.6 -13.44L-10.39 -16.8L-7.03 -16.8L-7.03 0Z"/></g><g transform="translate(700.46 606.1) scale(0.955 1)"><text class="tk" x="-3.34 3.34" y="0">.6</text><path d="M-11.11 0L-11.11 -10.85L-14.9 -10.85L-14.9 -13.15L-12.6 -13.44L-10.39 -16.8L-7.03 -16.8L-7.03 0Z"/></g><g transform="translate(752.13 606.1) scale(0.955 1)"><text class="tk" x="-6.67" y="0">2</text></g><g transform="translate(803.8 606.1) scale(0.955 1)"><text class="tk" x="-16.68 -3.34 3.34" y="0">2.4</text></g><g transform="translate(497.4 595.3) scale(0.975 1)"><text class="tk" x="-13.34" y="0">0</text></g><g transform="translate(497.4 520.67) scale(0.975 1)"><text class="tk" x="-46.7 -33.36 -26.69 -13.34" y="0">0.02</text></g><g transform="translate(497.4 446.03) scale(0.975 1)"><text class="tk" x="-46.7 -33.36 -26.69 -13.34" y="0">0.04</text></g><g transform="translate(497.4 371.4) scale(0.975 1)"><text class="tk" x="-46.7 -33.36 -26.69 -13.34" y="0">0.06</text></g>
<text x="357" y="86.9" text-anchor="middle" class="tag">(c)</text>
<text x="774" y="87.6" text-anchor="middle" class="tag">(d)</text>
<text x="362.5" y="378.2" text-anchor="middle" class="tag">(a)</text>
<text x="779.5" y="380" text-anchor="middle" class="tag">(b)</text>
<text x="284.2" y="37.4" text-anchor="end" class="key">TMSV</text>
<path d="M299.5 30H375.5" stroke="#000" stroke-width="2"/>
<rect x="331" y="23.5" width="13" height="13" fill="#000000"/>
<text x="458.3" y="37.4" text-anchor="end" class="key">PA</text>
<path d="M473.1 30H548.9" stroke="#000" stroke-width="2"/>
<path d="M511 22.33L504.5 33.12L517.5 33.12Z" fill="#000000"/>
<text x="631.8" y="37.4" text-anchor="end" class="key">PS</text>
<path d="M646.2 30H722.6" stroke="#000" stroke-width="2"/>
<circle cx="684.4" cy="30" r="6.5" fill="#000000"/>
<text x="158" y="528.3" text-anchor="end" class="leg">r = 0.5</text>
<path d="M170.8 521.2H240.3" stroke="#ff0000" stroke-width="1.25"/>
<text x="158" y="549.1" text-anchor="end" class="leg">r = 1.0</text>
<path d="M170.8 541.8H240.3" stroke="#ffa500" stroke-width="1.25"/>
<text x="158" y="569.6" text-anchor="end" class="leg">classical</text>
<path d="M170.8 562.6H240.3" stroke="#00ff00" stroke-width="5.3" stroke-dasharray="10.4 15.4"/>
<text x="588.2" y="392.7" text-anchor="end" class="leg">r = 0.5</text>
<path d="M601.2 386.1H670.5" stroke="#ff0000" stroke-width="1.25"/>
<text x="588.2" y="423.8" text-anchor="end" class="leg">r = 1.0</text>
<path d="M601.2 417.1H670.5" stroke="#ffa500" stroke-width="1.25"/>
<g transform="translate(5.0 165.0) scale(0.06107)" stroke-linecap="round" stroke-linejoin="round"><path d="M492 130 C466 148 440 155 410 155 L300 155 C245 155 192 198 184 262" fill="none" stroke="#000" stroke-width="19"/><ellipse cx="204" cy="274" rx="22" ry="31" transform="rotate(-8 204 274)" fill="#000"/><path d="M335 158 C322 200 310 235 300 262 C288 300 280 330 268 365 C255 402 235 450 195 484 L214 512 C262 480 288 430 305 375 C318 335 330 300 342 262 C352 232 362 195 372 158 Z" fill="#000"/><ellipse cx="182" cy="499" rx="47" ry="19" transform="rotate(-10 182 499)" fill="#000"/><path d="M286 322 C330 318 370 310 412 298" fill="none" stroke="#000" stroke-width="19"/></g>
<g transform="translate(423.6 155.7) scale(0.06107)" stroke-linecap="round" stroke-linejoin="round"><path d="M492 130 C466 148 440 155 410 155 L300 155 C245 155 192 198 184 262" fill="none" stroke="#000" stroke-width="19"/><ellipse cx="204" cy="274" rx="22" ry="31" transform="rotate(-8 204 274)" fill="#000"/><path d="M335 158 C322 200 310 235 300 262 C288 300 280 330 268 365 C255 402 235 450 195 484 L214 512 C262 480 288 430 305 375 C318 335 330 300 342 262 C352 232 362 195 372 158 Z" fill="#000"/><ellipse cx="182" cy="499" rx="47" ry="19" transform="rotate(-10 182 499)" fill="#000"/><path d="M286 322 C330 318 370 310 412 298" fill="none" stroke="#000" stroke-width="19"/></g>
<g transform="translate(9.1 458.5) scale(0.06107)" stroke-linecap="round" stroke-linejoin="round"><path d="M492 130 C466 148 440 155 410 155 L300 155 C245 155 192 198 184 262" fill="none" stroke="#000" stroke-width="19"/><ellipse cx="204" cy="274" rx="22" ry="31" transform="rotate(-8 204 274)" fill="#000"/><path d="M335 158 C322 200 310 235 300 262 C288 300 280 330 268 365 C255 402 235 450 195 484 L214 512 C262 480 288 430 305 375 C318 335 330 300 342 262 C352 232 362 195 372 158 Z" fill="#000"/><ellipse cx="182" cy="499" rx="47" ry="19" transform="rotate(-10 182 499)" fill="#000"/><path d="M286 322 C330 318 370 310 412 298" fill="none" stroke="#000" stroke-width="19"/></g>
<g transform="translate(432.9 456.9) scale(0.06107)" stroke-linecap="round" stroke-linejoin="round"><path d="M492 130 C466 148 440 155 410 155 L300 155 C245 155 192 198 184 262" fill="none" stroke="#000" stroke-width="19"/><ellipse cx="204" cy="274" rx="22" ry="31" transform="rotate(-8 204 274)" fill="#000"/><path d="M335 158 C322 200 310 235 300 262 C288 300 280 330 268 365 C255 402 235 450 195 484 L214 512 C262 480 288 430 305 375 C318 335 330 300 342 262 C352 232 362 195 372 158 Z" fill="#000"/><ellipse cx="182" cy="499" rx="47" ry="19" transform="rotate(-10 182 499)" fill="#000"/><path d="M286 322 C330 318 370 310 412 298" fill="none" stroke="#000" stroke-width="19"/></g>
<text x="409.9" y="183.4" class="delta">&#916;</text>
<text x="411.9" y="484.5" class="delta">&#916;</text>
<g transform="translate(190 290) scale(0.09639)"><path fill-rule="evenodd" d="M372 238 C330 238 300 270 300 314 C300 358 328 387 369 387 C412 387 440 357 440 312 C440 290 432 268 418 256 L470 256 L470 231 L395 231 C388 233 380 238 372 238 Z M371 258 C395 258 407 284 407 316 C407 347 394 368 372 368 C348 368 334 345 334 312 C334 280 348 258 371 258 Z"/></g>
<text x="235.5" y="335.7" class="sub">c</text>
<g transform="translate(610.2 290) scale(0.09639)"><path fill-rule="evenodd" d="M372 238 C330 238 300 270 300 314 C300 358 328 387 369 387 C412 387 440 357 440 312 C440 290 432 268 418 256 L470 256 L470 231 L395 231 C388 233 380 238 372 238 Z M371 258 C395 258 407 284 407 316 C407 347 394 368 372 368 C348 368 334 345 334 312 C334 280 348 258 371 258 Z"/></g>
<text x="655.7" y="335.7" class="sub">c</text>
<text transform="translate(213.1 634.6) scale(0.87 1)" class="bigL">L</text>
<text x="230.7" y="642.8" class="beta">&#946;</text>
<text transform="translate(633.2 634.6) scale(0.87 1)" class="bigL">L</text>
<text x="650.8" y="642.8" class="beta">&#946;</text>
</svg>
</body>
</html>
